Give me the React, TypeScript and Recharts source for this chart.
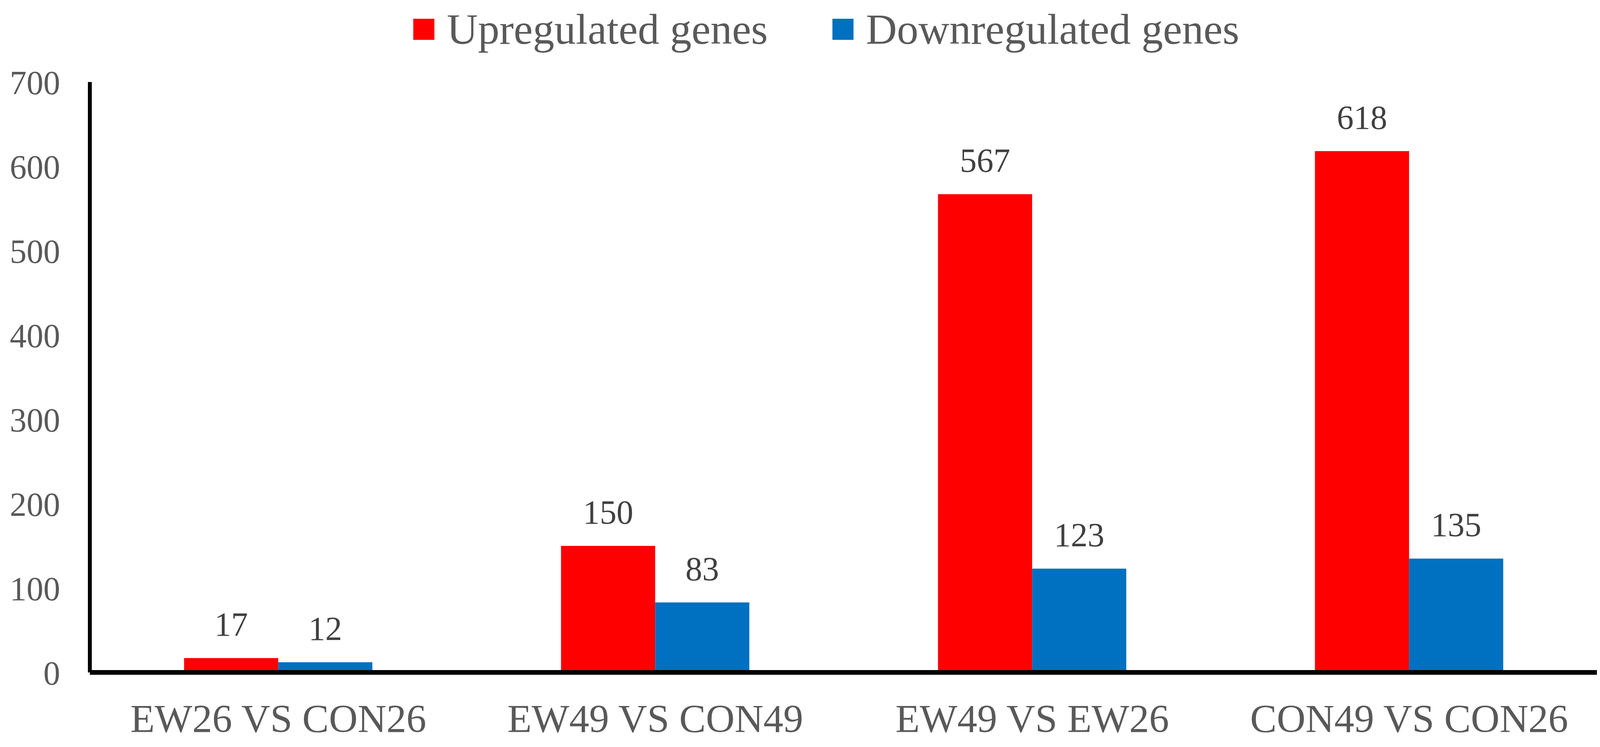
import React from "react";
import { BarChart, Bar, XAxis, YAxis, Legend, LabelList } from "recharts";

const comparisons: string[] = ["EW26 VS CON26", "EW49 VS CON49", "EW49 VS EW26", "CON49 VS CON26"];
const upregulated: number[] = [17, 150, 567, 618];
const downregulated: number[] = [12, 83, 123, 135];
const yTicks: number[] = [0, 100, 200, 300, 400, 500, 600, 700];
const seriesOrder: string[] = ["up", "down"];

const data = comparisons.map((name, i) => ({
  name,
  up: upregulated[i],
  down: downregulated[i],
}));

const FONT = '"Liberation Serif", "Times New Roman", serif';

const renderLegend = (props: any) => {
  const payload = [...(props.payload || [])].sort(
    (a: any, b: any) => seriesOrder.indexOf(a.dataKey) - seriesOrder.indexOf(b.dataKey)
  );
  return (
    <div style={{ display: "flex", alignItems: "center", height: 110, paddingLeft: 1058, fontFamily: FONT }}>
      {payload.map((entry: any, i: number) => (
        <div key={entry.value} style={{ display: "flex", alignItems: "center", marginRight: i === 0 ? 165 : 0 }}>
          <span style={{ width: 54, height: 54, background: entry.color, marginRight: 32, display: "inline-block" }} />
          <span style={{ fontSize: 110, lineHeight: "110px", color: "#595959" }}>{entry.value}</span>
        </div>
      ))}
    </div>
  );
};

const App: React.FC = () => {
  return (
    <div style={{ margin: -8, background: "#fff" }}>
      <BarChart
        width={4128}
        height={1913}
        data={data}
        margin={{ top: 210, right: 38, bottom: 41, left: 0 }}
        barCategoryGap="25%"
        barGap={0}
      >
        <YAxis
          width={230}
          domain={[0, 700]}
          ticks={yTicks}
          interval={0}
          tickLine={false}
          tickMargin={70}
          axisLine={{ stroke: "#000", strokeWidth: 10 }}
          tick={{ fill: "#595959", fontSize: 86, fontFamily: FONT }}
        />
        <Legend
          verticalAlign="middle"
          align="center"
          layout="horizontal"
          wrapperStyle={{ top: 20, left: 0, width: 4128 }}
          content={renderLegend}
        />
        <Bar dataKey="up" name="Upregulated genes" fill="#FF0000" isAnimationActive={false}>
          <LabelList dataKey="up" position="top" offset={57} fill="#404040" fontSize={86} fontFamily={FONT} />
        </Bar>
        <Bar dataKey="down" name="Downregulated genes" fill="#0070C0" isAnimationActive={false}>
          <LabelList dataKey="down" position="top" offset={57} fill="#404040" fontSize={86} fontFamily={FONT} />
        </Bar>
        <XAxis
          dataKey="name"
          height={150}
          tickLine={false}
          tickMargin={75}
          interval={0}
          axisLine={{ stroke: "#000", strokeWidth: 12 }}
          tick={{ fill: "#595959", fontSize: 102, fontFamily: FONT }}
        />
      </BarChart>
    </div>
  );
};

export default App;
